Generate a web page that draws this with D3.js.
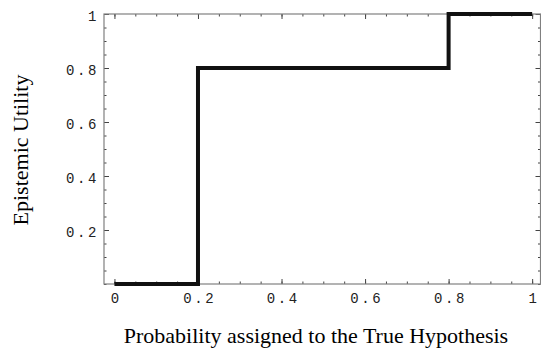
<!DOCTYPE html>
<html><head><meta charset="utf-8">
<script src="https://cdn.jsdelivr.net/npm/d3@7"></script>
<style>body{margin:0;background:#fff}svg{display:block}</style>
</head><body>
<svg id="c" width="541" height="357"></svg>
<script>
// Step function data
const probX = [0, 0.2, 0.2, 0.8, 0.8, 1];
const utilityY = [0, 0, 0.8, 0.8, 1, 1];
const xTicks = [0, 0.2, 0.4, 0.6, 0.8, 1];
const xTickLabels = ["0", "0.2", "0.4", "0.6", "0.8", "1"];
const yTicks = [0.2, 0.4, 0.6, 0.8, 1];
const yTickLabels = ["0.2", "0.4", "0.6", "0.8", "1"];
const xTitle = "Probability assigned to the True Hypothesis";
const yTitle = "Epistemic Utility";

const svg = d3.select("#c");
const x = d3.scaleLinear().domain([-0.025, 1.02]).range([104, 540.5]);
const y = d3.scaleLinear().domain([0, 1]).range([284, 14]);
const minor = d3.range(0, 1.0001, 0.05);
const frameCol = "#808080";
const tickCol = "#444";

function styleAxis(g){
  g.select(".domain").remove();
  g.selectAll(".tick line").attr("stroke", tickCol).attr("stroke-width", 1);
  g.selectAll(".tick text").attr("fill", "#222")
    .style("font-family", "'Liberation Mono', 'Courier New', monospace")
    .style("font-size", "14px").style("letter-spacing", "2.6px");
}

// minor ticks all four sides
svg.append("g").attr("transform", `translate(0,${y(0)})`)
  .call(d3.axisBottom(x).tickValues(minor).tickSize(-2.5).tickFormat("")).call(styleAxis);
svg.append("g").attr("transform", `translate(0,${y(1)})`)
  .call(d3.axisTop(x).tickValues(minor).tickSize(-2.5).tickFormat("")).call(styleAxis);
svg.append("g").attr("transform", `translate(${x.range()[0]},0)`)
  .call(d3.axisLeft(y).tickValues(minor).tickSize(-2.5).tickFormat("")).call(styleAxis);
svg.append("g").attr("transform", `translate(${x.range()[1]},0)`)
  .call(d3.axisRight(y).tickValues(minor).tickSize(-2.5).tickFormat("")).call(styleAxis);

// major ticks
svg.append("g").attr("transform", `translate(0,${y(0)})`)
  .call(d3.axisBottom(x).tickValues(xTicks).tickSize(-5).tickPadding(9)
    .tickFormat((d,i)=>xTickLabels[i])).call(styleAxis)
  .selectAll(".tick text").attr("dx", "1.3px");
svg.append("g").attr("transform", `translate(0,${y(1)})`)
  .call(d3.axisTop(x).tickValues(xTicks).tickSize(-5).tickFormat("")).call(styleAxis);
svg.append("g").attr("transform", `translate(${x.range()[0]},0)`)
  .call(d3.axisLeft(y).tickValues(yTicks).tickSize(-5).tickPadding(5)
    .tickFormat((d,i)=>yTickLabels[i])).call(styleAxis)
  .selectAll(".tick text").attr("dy", "0.45em");
svg.append("g").attr("transform", `translate(${x.range()[1]},0)`)
  .call(d3.axisRight(y).tickValues(yTicks).tickSize(-5).tickFormat("")).call(styleAxis);

// frame
svg.append("rect")
  .attr("x", x.range()[0]).attr("y", y.range()[1])
  .attr("width", x.range()[1]-x.range()[0]).attr("height", y.range()[0]-y.range()[1])
  .attr("fill", "none").attr("stroke", frameCol).attr("stroke-width", 1.2);

// step line
const pts = probX.map((d,i)=>[d, utilityY[i]]);
svg.append("path").datum(pts)
  .attr("d", d3.line().x(d=>x(d[0])).y(d=>y(d[1])))
  .attr("fill", "none").attr("stroke", "#111").attr("stroke-width", 4)
  .attr("stroke-linejoin", "miter");

// titles
svg.append("text").attr("x", 316).attr("y", 343).attr("text-anchor", "middle")
  .style("font-family", "'Liberation Serif', 'Times New Roman', serif").style("font-size", "22px")
  .attr("fill", "#000").text(xTitle);
svg.append("text").attr("transform", "translate(28,150) rotate(-90)").attr("text-anchor", "middle")
  .style("font-family", "'Liberation Serif', 'Times New Roman', serif").style("font-size", "22px")
  .attr("fill", "#000").text(yTitle);
</script>
</body></html>
